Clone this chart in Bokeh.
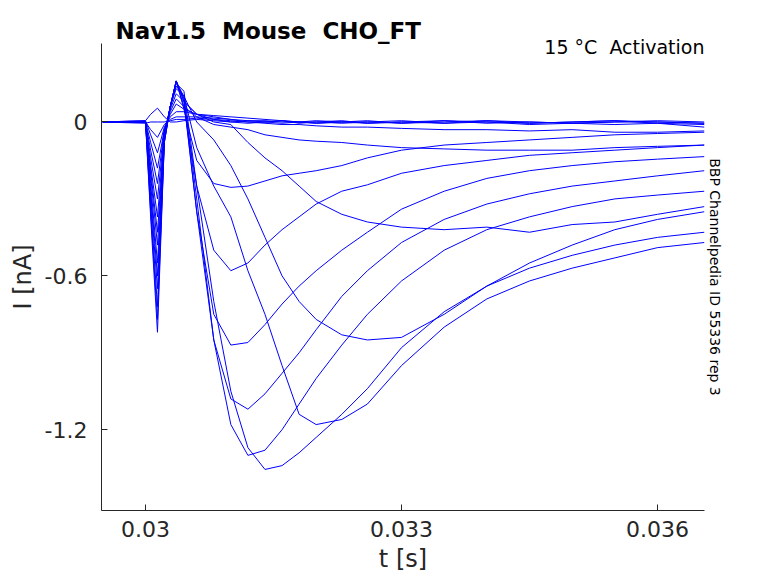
from bokeh.plotting import figure
from bokeh.models import Range1d, FixedTicker, Title
from bokeh.embed import file_html
from bokeh.resources import INLINE

# time grid (s)
t = [0.02950, 0.03000, 0.03006, 0.03014, 0.03022, 0.03029, 0.03036, 0.03045, 0.0306, 0.0308,
     0.0310, 0.0312, 0.0314, 0.0316, 0.0318, 0.0320, 0.0323, 0.0326, 0.0330, 0.0335,
     0.0340, 0.0345, 0.0350, 0.0355, 0.0360, 0.03655]

# current traces (nA), one per voltage step
flat1 = [0, 0.005, 0.03, 0.054, 0.02, 0.0, 0.0, 0.005, 0.01, 0.005, 0.0, -0.005, 0.0, 0.005, 0.0, -0.005, 0.0, 0.005, -0.005, 0.0, 0.005, 0.0, -0.005, 0.0, 0.005, 0.0]
flat2 = [0, -0.005, 0.0, 0.0, 0.0, 0.005, 0.01, 0.01, 0.015, 0.01, 0.005, 0.0, 0.0, 0.005, -0.005, 0.0, 0.005, -0.005, 0.0, -0.005, 0.005, -0.005, 0.0, 0.005, -0.005, -0.01]
flat3 = [0, 0.0, -0.03, -0.06, -0.01, 0.01, 0.02, 0.02, 0.02, 0.015, 0.01, 0.005, 0.005, 0.0, 0.0, -0.005, 0.0, 0.0, -0.005, 0.005, -0.005, 0.0, -0.005, 0.0, 0.0, -0.005]
flat4 = [0, 0.005, -0.05, -0.12, -0.02, 0.02, 0.04, 0.04, 0.03, 0.025, 0.02, 0.015, 0.01, 0.005, 0.0, 0.0, -0.005, 0.0, 0.005, -0.005, 0.0, -0.01, -0.005, -0.01, -0.005, -0.02]
flat5 = [0, 0.0, -0.08, -0.18, -0.03, 0.03, 0.07, 0.05, 0.03, 0.02, 0.01, 0.0, -0.005, -0.01, -0.01, -0.015, -0.02, -0.02, -0.025, -0.03, -0.03, -0.035, -0.03, -0.04, -0.04, -0.035]
trB = [0, 0.0, -0.11, -0.24, -0.03, 0.04, 0.09, 0.06, 0.02, -0.01, -0.02, -0.03, -0.05, -0.06, -0.07, -0.075, -0.08, -0.09, -0.10, -0.105, -0.11, -0.11, -0.11, -0.10, -0.095, -0.09]
trC = [0, 0.0, -0.14, -0.30, -0.04, 0.05, 0.11, 0.08, 0.03, 0.0, -0.01, -0.08, -0.14, -0.19, -0.25, -0.31, -0.36, -0.39, -0.41, -0.42, -0.41, -0.43, -0.40, -0.39, -0.36, -0.33]
trJ = [0, 0.0, -0.17, -0.37, -0.05, 0.06, 0.13, 0.10, 0.0, -0.07, -0.17, -0.30, -0.45, -0.60, -0.70, -0.77, -0.83, -0.85, -0.84, -0.75, -0.64, -0.55, -0.48, -0.42, -0.38, -0.35]
trI = [0, 0.0, -0.19, -0.43, -0.05, 0.06, 0.14, 0.10, -0.10, -0.25, -0.37, -0.58, -0.75, -0.95, -1.14, -1.18, -1.16, -1.10, -0.95, -0.80, -0.69, -0.62, -0.57, -0.53, -0.49, -0.47]
trG = [0, 0.0, -0.21, -0.48, -0.06, 0.06, 0.15, 0.12, -0.25, -0.70, -1.05, -1.27, -1.355, -1.34, -1.29, -1.23, -1.14, -1.04, -0.88, -0.74, -0.64, -0.57, -0.52, -0.48, -0.45, -0.43]
trH = [0, 0.0, -0.24, -0.55, -0.06, 0.06, 0.155, 0.10, -0.30, -0.85, -1.18, -1.30, -1.28, -1.20, -1.10, -1.00, -0.87, -0.75, -0.62, -0.50, -0.42, -0.37, -0.33, -0.30, -0.285, -0.27]
trF = [0, 0.0, -0.27, -0.60, -0.07, 0.06, 0.16, 0.09, -0.35, -0.85, -1.08, -1.12, -1.06, -0.98, -0.90, -0.81, -0.68, -0.58, -0.47, -0.38, -0.32, -0.28, -0.25, -0.23, -0.21, -0.19]
trE = [0, 0.0, -0.29, -0.65, -0.07, 0.06, 0.16, 0.08, -0.35, -0.75, -0.87, -0.86, -0.79, -0.71, -0.64, -0.58, -0.50, -0.43, -0.34, -0.27, -0.22, -0.19, -0.17, -0.155, -0.145, -0.135]
trD = [0, 0.0, -0.32, -0.72, -0.08, 0.06, 0.16, 0.06, -0.25, -0.50, -0.58, -0.55, -0.48, -0.42, -0.37, -0.32, -0.27, -0.245, -0.20, -0.17, -0.15, -0.13, -0.12, -0.11, -0.10, -0.09]
trS = [0, 0.0, -0.35, -0.77, -0.08, 0.06, 0.16, 0.05, -0.15, -0.24, -0.255, -0.25, -0.23, -0.21, -0.20, -0.19, -0.17, -0.14, -0.11, -0.09, -0.08, -0.07, -0.06, -0.05, -0.045, -0.04]
trX = [0, 0.0, -0.37, -0.82, -0.08, 0.06, 0.16, 0.08, 0.03, 0.01, 0.0, 0.005, 0.0, -0.005, 0.0, 0.005, 0.0, -0.005, 0.0, 0.005, 0.0, -0.005, 0.0, 0.005, 0.0, -0.005]

traces = [flat1, flat2, flat3, flat4, flat5, trB, trC, trJ, trI, trG, trH, trF, trE, trD, trS, trX]

x_ticks = [0.03, 0.033, 0.036]
y_ticks = [-1.2, -0.6, 0]

NB = "\u00a0"

p = figure(width=770, height=575, output_backend="svg", toolbar_location=None,
           x_range=Range1d(0.029484, 0.036551), y_range=Range1d(-1.515, 0.306),
           min_border_left=101, min_border_right=66, min_border_top=43, min_border_bottom=62,
           title=None)
p.outline_line_color = None
p.grid.visible = False

for tr in traces:
    p.line(t, tr, line_color="#0000ff", line_width=1)

p.xaxis.ticker = FixedTicker(ticks=x_ticks)
p.yaxis.ticker = FixedTicker(ticks=y_ticks)
p.xaxis.major_label_overrides = {0.03: "0.03", 0.033: "0.033", 0.036: "0.036"}
p.yaxis.major_label_overrides = {-1.2: "-1.2", -0.6: "-0.6", 0: "0"}
for ax in (p.xaxis, p.yaxis):
    ax.major_tick_in = 6
    ax.major_tick_out = 0
    ax.minor_tick_line_color = None
    ax.axis_line_color = "#262626"
    ax.major_tick_line_color = "#262626"
    ax.major_label_text_font_size = "22px"
    ax.major_label_text_color = "#262626"
    ax.major_label_text_font = "DejaVu Sans"
    ax.axis_label_text_font_size = "24px"
    ax.axis_label_text_font_style = "normal"
    ax.axis_label_text_color = "#262626"
    ax.axis_label_text_font = "DejaVu Sans"
p.xaxis.axis_label = "t [s]"
p.yaxis.axis_label = "I [nA]"
p.xaxis.major_label_standoff = 10
p.yaxis.major_label_standoff = 14

p.add_layout(Title(text="15" + NB + "°C" + NB + NB + "Activation", align="right", offset=0,
                   text_font="DejaVu Sans", text_font_size="19px", text_font_style="normal",
                   text_color="black", standoff=-28), "above")
p.add_layout(Title(text="Nav1.5" + NB + NB + "Mouse" + NB + NB + "CHO_FT", align="left", offset=14,
                   text_font="DejaVu Sans", text_font_style="bold", text_font_size="23px",
                   text_color="black", standoff=0), "above")
p.add_layout(Title(text="BBP Channelpedia ID 55336 rep 3", align="center", text_font="DejaVu Sans",
                   text_font_size="14px", text_font_style="normal", text_color="black",
                   standoff=4), "right")

open("out.html", "w").write(file_html(p, INLINE))
